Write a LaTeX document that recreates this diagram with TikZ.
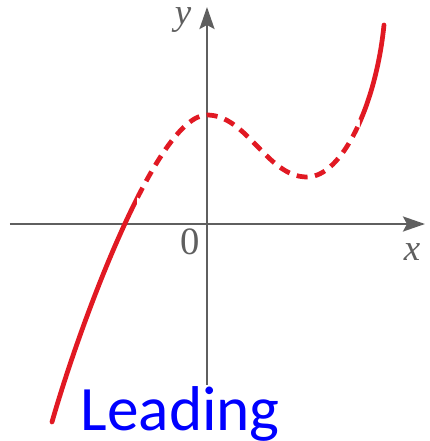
\documentclass[tikz,border=0pt]{standalone}
\usepackage{fontspec}
\newfontfamily\labelfont{Liberation Serif}
\newfontfamily\leadfont{Carlito}
\usetikzlibrary{arrows.meta}
\definecolor{axisgray}{RGB}{95,95,95}
\definecolor{curvered}{RGB}{225,25,35}

\begin{document}
\begin{tikzpicture}[
  axis/.style={axisgray, line width=0.7pt, -{Stealth[length=0.22cm, width=0.15cm, inset=0.04cm]}},
  graph/.style={curvered, line width=1.35pt, line cap=round},
  lbl/.style={axisgray, font=\labelfont\itshape\fontsize{10.5}{12}\selectfont, inner sep=0pt}
]
  \useasboundingbox (-2.07,-2.17) rectangle (2.22,2.24);
  \def\curvepath{(-1.55,-1.98) .. controls (-1.27,-1.0) and (-0.5,1.09) .. (0,1.09)
    .. controls (0.4,1.09) and (0.6,0.47) .. (1.00,0.47)
    .. controls (1.35,0.47) and (1.69,1.19) .. (1.77,1.99)}
  % axes
  \coordinate (xl) at (-1.97,0);
  \coordinate (xr) at (2.18,0);
  \coordinate (yb) at (0,-1.61);
  \coordinate (yt) at (0,2.17);
  \draw[axis] (xl)--(xr);
  \draw[axis] (yb)--(yt);
  \node[lbl] (ylab) at (-0.24,2.04) {y};
  \node[lbl] (xlab) at (2.05,-0.28) {x};
  \node[lbl, font=\labelfont\fontsize{11}{13}\selectfont] (orig) at (-0.17,-0.18) {0};
  % solid parts
  \begin{scope}
    \clip (-2.1,-2.2) rectangle (-0.70,2.3) (1.53,-2.2) rectangle (2.3,2.3);
    \draw[graph] \curvepath;
  \end{scope}
  % dashed part
  \begin{scope}
    \clip (-0.70,-2.2) rectangle (1.53,2.3);
    \draw[graph, dash pattern=on 0.11cm off 0.075cm, line cap=butt] \curvepath;
  \end{scope}
  \node[blue, font=\leadfont\fontsize{18}{20}\selectfont, anchor=base west, inner sep=0pt] (lead) at (-1.27,-2.06) {Leading};
\end{tikzpicture}
\end{document}
